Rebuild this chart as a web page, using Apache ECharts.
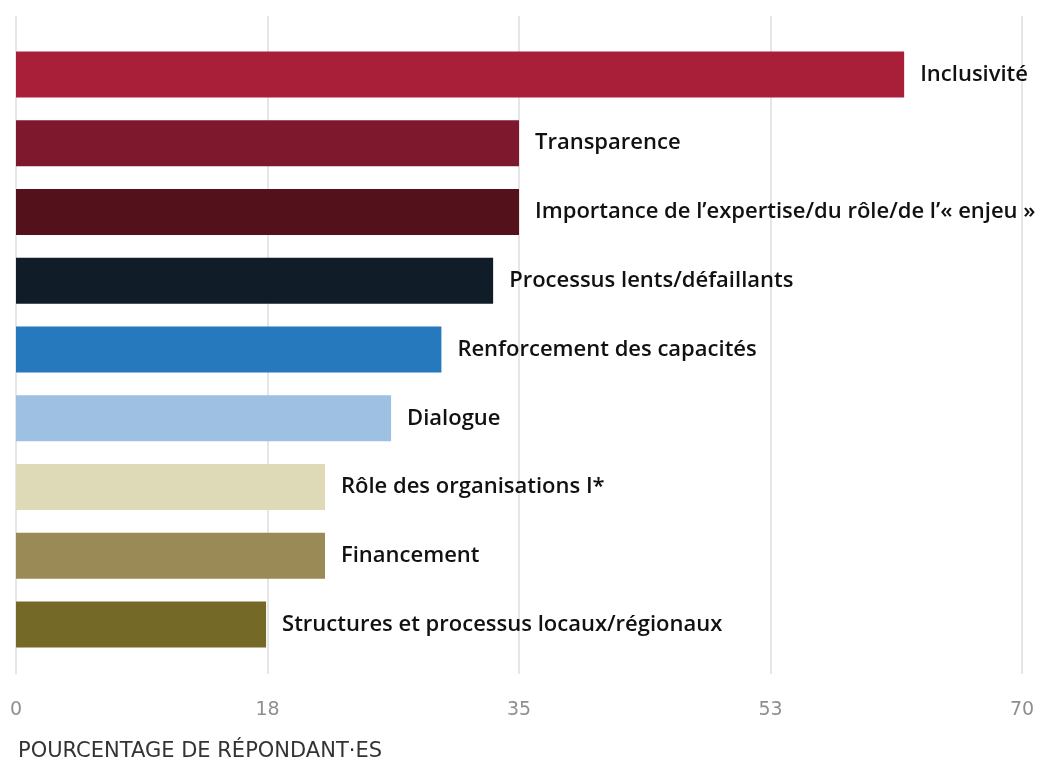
<!DOCTYPE html>
<html>
<head>
<meta charset="utf-8">
<script src="https://cdn.jsdelivr.net/npm/echarts@6/dist/echarts.min.js"></script>
<style>
html,body{margin:0;padding:0;background:#fff;}
#chart{width:1042px;height:763px;}
</style>
</head>
<body>
<div id="chart"></div>
<script>
const categories = [
  "Inclusivité",
  "Transparence",
  "Importance de l’expertise/du rôle/de l’« enjeu »",
  "Processus lents/défaillants",
  "Renforcement des capacités",
  "Dialogue",
  "Rôle des organisations I*",
  "Financement",
  "Structures et processus locaux/régionaux"
];
const values = [61.8, 35, 35, 33.2, 29.6, 26.1, 21.5, 21.5, 17.4];
const colors = ["#A91F3A", "#7D182D", "#53111B", "#111C29", "#2679BC", "#9DC0E3", "#DEDAB8", "#9A8A55", "#756928"];
const axisMin = 0, axisMax = 70, axisInterval = 17.5;
const axisTitle = "POURCENTAGE DE RÉPONDANT·ES";

const FONT = '"Open Sans", "DejaVu Sans", sans-serif';
const FONT2 = '"DejaVu Sans", "Open Sans", sans-serif';
const chart = echarts.init(document.getElementById('chart'), null, {renderer: 'canvas'});
chart.setOption({
  animation: false,
  backgroundColor: '#ffffff',
  grid: [
    {left: 16, right: 20, top: 16, bottom: 89, containLabel: false},
    {left: 16, right: 20, top: 40, bottom: 104, containLabel: false}
  ],
  xAxis: [
    {
      gridIndex: 0, type: 'value', min: axisMin, max: axisMax, interval: axisInterval,
      axisLine: {show: false}, axisTick: {show: false},
      splitLine: {show: true, lineStyle: {color: '#e6e6e6', width: 2}},
      axisLabel: {
        color: '#8f8f8f', fontSize: 19, fontFamily: FONT2, margin: 27,
        formatter: v => String(Math.round(v))
      }
    },
    {
      gridIndex: 1, type: 'value', min: axisMin, max: axisMax,
      show: false, splitLine: {show: false}
    }
  ],
  yAxis: [
    {gridIndex: 0, type: 'value', show: false, splitLine: {show: false}},
    {
      gridIndex: 1, type: 'category', data: categories, inverse: true,
      show: false
    }
  ],
  graphic: [{
    type: 'text', left: 18, top: 741,
    style: {text: axisTitle, fill: '#333333', font: '400 21px ' + FONT2}
  }],
  series: [{
    type: 'bar',
    xAxisIndex: 1, yAxisIndex: 1,
    barWidth: 46,
    data: values.map((v, i) => ({value: v, itemStyle: {color: colors[i]}})),
    label: {
      show: true, position: 'right', distance: 16,
      formatter: p => categories[p.dataIndex],
      color: '#111111', fontSize: 22, fontWeight: 600, fontFamily: FONT
    }
  }]
});
</script>
</body>
</html>
